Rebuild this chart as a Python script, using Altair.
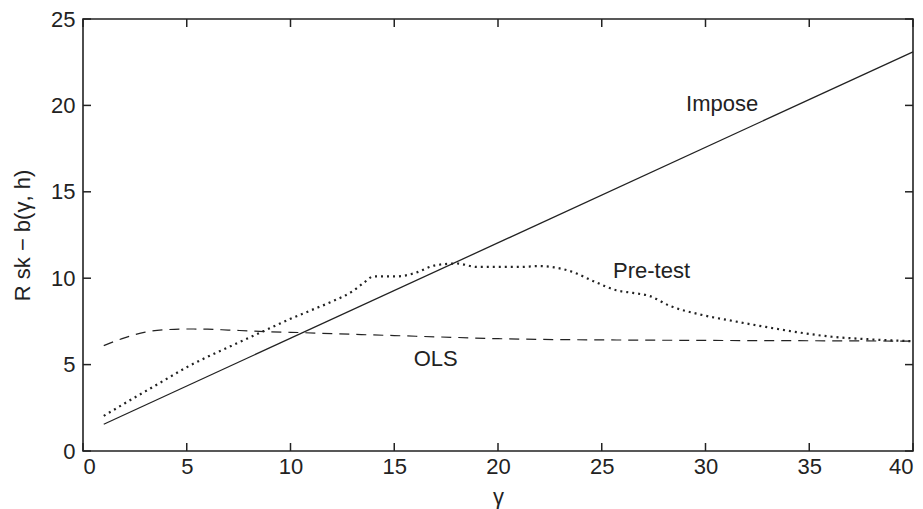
import altair as alt
import pandas as pd

# --- data ---
gamma_impose = [1, 40]
risk_impose = [1.55, 23.1]

gamma_ols = [1, 2, 3, 4, 5, 6, 7, 8, 9, 10, 12, 15, 18, 20, 22, 25, 30, 35, 40]
risk_ols = [6.1, 6.55, 6.88, 7.02, 7.06, 7.05, 7.0, 6.95, 6.9, 6.87, 6.79, 6.68,
            6.57, 6.5, 6.46, 6.43, 6.4, 6.38, 6.36]

gamma_pre = [1, 2, 3, 4, 5, 6, 7, 8, 9, 10, 11, 12, 13, 13.5, 14, 15, 15.5, 16, 17,
             18, 19, 20, 21, 22, 22.7, 23.6, 24.6, 25.7, 26.5, 27.3, 28.3, 29.7,
             31.3, 32.9, 34.5, 36.1, 37.8, 40]
risk_pre = [2.03, 2.75, 3.45, 4.15, 4.85, 5.45, 6.0, 6.55, 7.1, 7.65, 8.15, 8.65,
            9.25, 9.7, 10.1, 10.1, 10.15, 10.3, 10.75, 10.85, 10.65, 10.65, 10.65,
            10.7, 10.63, 10.36, 9.83, 9.3, 9.15, 8.97, 8.39, 7.91, 7.53, 7.18, 6.86,
            6.61, 6.47, 6.35]

label_text = ["Impose", "Pre-test", "OLS"]
label_x = [30.8, 27.4, 17.0]
label_y = [20.1, 10.4, 5.34]

x_ticks = [0, 5, 10, 15, 20, 25, 30, 35, 40]
y_ticks = [0, 5, 10, 15, 20, 25]

W, H = 830, 432
INK = "#222222"
FONT = "Liberation Sans"
FS = 22

xs = alt.Scale(domain=[0, 40], nice=False, zero=False)
ys = alt.Scale(domain=[0, 25], nice=False, zero=False)

df_imp = pd.DataFrame({"gamma": gamma_impose, "risk": risk_impose})
df_ols = pd.DataFrame({"gamma": gamma_ols, "risk": risk_ols})
df_pre = pd.DataFrame({"gamma": gamma_pre, "risk": risk_pre})
df_lab = pd.DataFrame({"gamma": label_x, "risk": label_y, "txt": label_text})
df_xt = pd.DataFrame({"gamma": x_ticks})
df_yt = pd.DataFrame({"risk": y_ticks})

x_axis = alt.Axis(values=x_ticks, title="γ", domain=False, ticks=False, grid=False,
                  labelFontSize=FS, labelFont=FONT, labelColor=INK, labelPadding=5,
                  titleFontSize=FS, titleFont=FONT, titleColor=INK,
                  titleFontWeight="normal", titlePadding=9)
y_axis = alt.Axis(values=y_ticks, title="R sk − b(γ, h)", domain=False, ticks=False,
                  grid=False, labelFontSize=FS, labelFont=FONT, labelColor=INK,
                  labelPadding=8, titleFontSize=FS, titleFont=FONT, titleColor=INK,
                  titleFontWeight="normal", titlePadding=16)

X = alt.X("gamma:Q", scale=xs, axis=x_axis)
Y = alt.Y("risk:Q", scale=ys, axis=y_axis)

impose = alt.Chart(df_imp).mark_line(color=INK, strokeWidth=1.3).encode(x=X, y=Y)
ols = alt.Chart(df_ols).mark_line(color=INK, strokeWidth=1.2, strokeDash=[10, 7],
                                  interpolate="monotone").encode(x=X, y=Y)
pre = alt.Chart(df_pre).mark_line(color=INK, strokeWidth=2.2, strokeDash=[2, 4],
                                  interpolate="monotone").encode(x=X, y=Y)
labels = alt.Chart(df_lab).mark_text(font=FONT, fontSize=FS, color=INK,
                                     align="center", baseline="middle").encode(
    x=X, y=Y, text="txt:N")

TL = 8
xt_bottom = alt.Chart(df_xt).mark_rule(color=INK, strokeWidth=1.5).encode(
    x=X, y=alt.value(H), y2=alt.value(H - TL))
xt_top = alt.Chart(df_xt).mark_rule(color=INK, strokeWidth=1.5).encode(
    x=X, y=alt.value(0), y2=alt.value(TL))
yt_left = alt.Chart(df_yt).mark_rule(color=INK, strokeWidth=1.5).encode(
    y=Y, x=alt.value(0), x2=alt.value(TL))
yt_right = alt.Chart(df_yt).mark_rule(color=INK, strokeWidth=1.5).encode(
    y=Y, x=alt.value(W), x2=alt.value(W - TL))

chart = alt.layer(impose, ols, pre, labels, xt_bottom, xt_top, yt_left, yt_right).properties(
    width=W, height=H,
    autosize=alt.AutoSizeParams(type="none"),
    padding={"left": 75, "top": 11, "right": 2, "bottom": 58},
).configure(background="white").configure_view(stroke=INK, strokeWidth=1.6)

chart.save("out.html", embed_options={"renderer": "svg", "actions": False})
